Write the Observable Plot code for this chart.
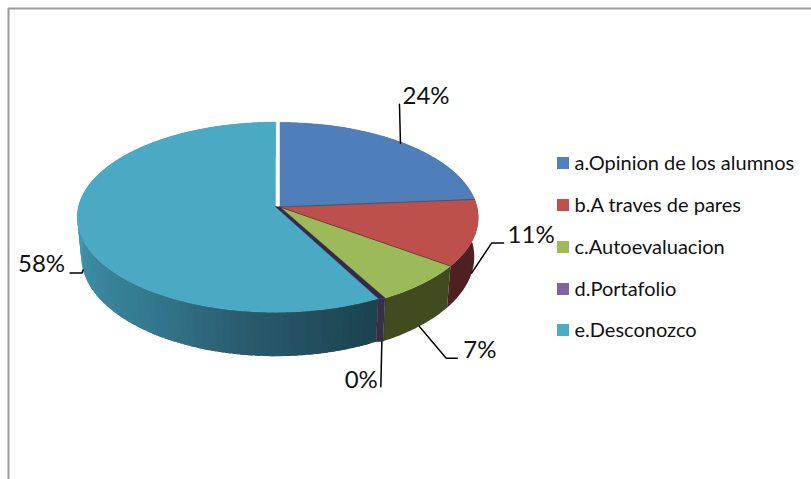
<!DOCTYPE html>
<html><head><meta charset="utf-8">
<style>html,body{margin:0;padding:0;background:#fff}svg{display:block}</style>
<script src="https://cdn.jsdelivr.net/npm/d3@7"></script>
<script src="https://cdn.jsdelivr.net/npm/@observablehq/plot@0.6"></script>
</head><body><div id="chart"></div>
<script>
const categories = ["a.Opinion de los alumnos","b.A traves de pares","c.Autoevaluacion","d.Portafolio","e.Desconozco"];
const values = [23.7, 11.3, 7, 0.2, 57.8];
const topColors = ["#4f7fba","#bd4f4d","#9cba59","#33294a","#4aa9c3"];
const wallColors = ["#2f4d70","#4e201f","#414b20","#382e49","#1c4450"];
const legendColors = ["#4f81bd","#c0504d","#9bbb59","#8064a2","#4bacc6"];
const legendRows = [163,205,247,289,330];

// Projection of the pie disc (perspective view of a unit circle)
const cx = 279.5, cy = 206.5, A = 93.84, B = 197, k = 0.1105;
const explode = [[0,0],[0,0],[0,0],[0,0],[-4.5,-0.3]];
function rim(deg, i, bottom) {
  const t = deg * Math.PI / 180, u = Math.sin(t), v = Math.cos(t), w = 1 + k * v;
  const X = B * u / w, Y = -A * v / w;
  const [dx, dy] = explode[i];
  return bottom
    ? {x: cx + dx + 0.98 * X, y: cy + dy + 1.05 * Y + 38.7}
    : {x: cx + dx + X, y: cy + dy + Y};
}
const total = d3.sum(values);
let acc = 0;
const slices = values.map((v, i) => {
  const a0 = acc / total * 360; acc += v; const a1 = acc / total * 360;
  return {i, a0, a1, mid: (a0 + a1) / 2};
});

const tealShade = d3.scaleLinear().domain([155,185,215,245,268,360])
  .range(["#1c4450","#28596b","#34788e","#3c8aa2","#4497af","#4497af"]).clamp(true);

const strips = [], polys = [];
function add(list, id, color, pts) { pts.forEach(p => list.push({...p, id, color})); }

// Walls: the solid slices as one piece, the teal one as overlapping shaded strips
slices.forEach(s => {
  if (s.i === 3) return;
  if (s.i === 4) {
    for (let a = s.a0; a < s.a1; a += 2) {
      const b = Math.min(a + 3.5, s.a1);
      add(strips, `w4-${a}`, tealShade(a + 1), [rim(a,4,false), rim(b,4,false), rim(b,4,true), rim(a,4,true)]);
    }
  } else {
    const angles = d3.range(s.a0, s.a1, 1).concat(s.a1);
    add(strips, `w${s.i}`, wallColors[s.i], [
      ...angles.map(a => rim(a, s.i, false)),
      ...angles.slice().reverse().map(a => rim(a, s.i, true))
    ]);
  }
});
// The thin portfolio slice: the dark face between the green slice and the pulled-out teal slice
const d = slices[3], teal = slices[4];
add(polys, "dwall", wallColors[3], [rim(d.a0,2,false), rim(teal.a0,4,false), rim(teal.a0,4,true), rim(d.a0,2,true)]);
// Tops
slices.forEach(s => {
  if (s.i === 3) return;
  const pts = [{x: cx + explode[s.i][0], y: cy + explode[s.i][1]}];
  for (let a = s.a0; a < s.a1; a += 1) pts.push(rim(a, s.i, false));
  pts.push(rim(s.a1, s.i, false));
  add(polys, `t${s.i}`, topColors[s.i], pts);
});
add(polys, "dtop", topColors[3], [{x: cx, y: cy}, rim(d.a0,2,false), rim(teal.a0,4,false), {x: cx + explode[4][0], y: cy + explode[4][1]}]);

// Dark seams between slices
const seams = [];
[[0,"#3d5670"],[1,"#6e3331"]].forEach(([i,c]) => {
  const a = slices[i].a1;
  seams.push({x: cx, y: cy, id: i, color: c}, {...rim(a,i,false), id: i, color: c});
});

// Leaders: start at the rim at the slice's mid angle, then elbow to the label
const leaderSpec = [
  {i:0, bottom:false, start:[-3,0], path:[[-4,-39]], lbl:[-1,-47], anchor:"start"},
  {i:1, bottom:true,  path:[[20,-30],[32,-30]], lbl:[36,-38], anchor:"start"},
  {i:2, bottom:true,  path:[[27,32],[38,32]], lbl:[44,24], anchor:"start"},
  {i:3, bottom:true,  path:[[-1,45]], lbl:[-4,39], anchor:"end"},
  {i:4, bottom:true,  path:[[-1,3],[-13,3]], lbl:[-18,-6], anchor:"end"}
];
const leaderPts = [], labels = [];
leaderSpec.forEach(l => {
  const p = rim(slices[l.i].mid, l.i, l.bottom);
  const [sx, sy] = l.start || [0, 0];
  leaderPts.push({x: p.x + sx, y: p.y + sy, id: l.i});
  l.path.forEach(([dx,dy]) => leaderPts.push({x: p.x + dx, y: p.y + dy, id: l.i}));
  labels.push({x: p.x + l.lbl[0], y: p.y + l.lbl[1], text: Math.round(values[l.i]) + "%", anchor: l.anchor});
});

const font = "Lato, Carlito, Calibri, sans-serif";
const legend = categories.map((name, i) => ({name, color: legendColors[i], y: legendRows[i]}));

const chart = Plot.plot({
  width: 811, height: 479,
  margin: 0,
  style: {background: "#fff", fontFamily: font},
  x: {domain: [0, 811], range: [0, 811], axis: null},
  y: {domain: [0, 479], range: [0, 479], axis: null},
  color: {type: "identity"},
  marks: [
    Plot.ruleX([8], {y1: 8, y2: 479, stroke: "#9b9b9b", strokeWidth: 2}),
    Plot.ruleY([8], {x1: 8, x2: 811, stroke: "#9b9b9b", strokeWidth: 2}),
    Plot.line(strips, {x: "x", y: "y", z: "id", fill: "color", curve: "linear-closed"}),
    Plot.line(polys, {x: "x", y: "y", z: "id", fill: "color", stroke: "color", strokeWidth: 0.5, curve: "linear-closed"}),
    Plot.line(seams, {x: "x", y: "y", z: "id", stroke: "color", strokeWidth: 1}),
    Plot.line(leaderPts, {x: "x", y: "y", z: "id", stroke: "#000", strokeWidth: 1.5}),
    ...["start","end"].map(anchor =>
      Plot.text(labels.filter(l => l.anchor === anchor), {x: "x", y: "y", text: "text", textAnchor: anchor, fontSize: 24, fill: "#111"})),
    Plot.rect(legend, {x1: () => 557, x2: () => 569, y1: d => d.y - 6, y2: d => d.y + 6, fill: "color"}),
    Plot.text(legend, {x: () => 574, y: "y", text: "name", textAnchor: "start", fontSize: 20, fill: "#111"})
  ]
});
document.getElementById("chart").append(chart);
</script></body></html>
